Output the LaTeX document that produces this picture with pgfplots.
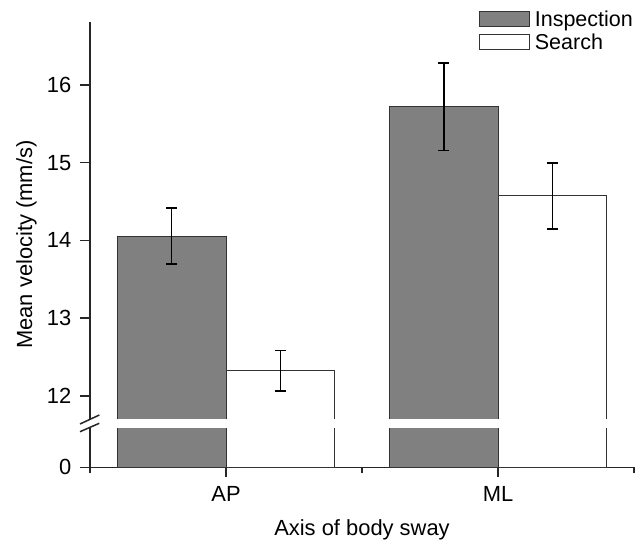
\documentclass[border=0pt]{standalone}
\usepackage{pgfplots}
\pgfplotsset{compat=1.18}
\usepackage{pgfplotstable}
\usepackage{fontspec}
\setmainfont{Liberation Sans}
\definecolor{bargray}{RGB}{128,128,128}
\pgfplotstableread{
x y err
0.8 14.055 0.36
1.8 15.72 0.565
}\inspection
\pgfplotstableread{
x y err
1.2 12.325 0.26
2.2 14.573 0.425
}\search
\begin{document}
\begin{tikzpicture}
\useasboundingbox (-90bp,-76.7bp) rectangle (549bp,467.3bp);
\begin{axis}[
  at={(0,0)}, anchor=south west,
  scale only axis, width=544bp, height=445.3bp,
  xmin=0.5, xmax=2.5, ymin=0, ymax=5.724,
  axis x line*=bottom, axis y line*=left,
  axis line style={line width=1.5bp, black!85},
  xtick={1,2}, xticklabels={AP,ML},
  minor xtick={0.5,1.5,2.5},
  ytick={0,0.9165,1.9165,2.9165,3.9165,4.9165},
  yticklabels={0,12,13,14,15,16},
  tick align=outside,
  major tick length=9.5bp, minor tick length=6bp,
  tick style={line width=1.5bp, black!85},
  /pgf/number format/assume math mode=true,
  tick label style={font=\fontsize{22}{26}\selectfont},
  yticklabel style={inner sep=0pt, anchor=east, xshift=-9bp},
  xticklabel style={inner sep=0pt, anchor=base, yshift=-25bp},
  xlabel={Axis of body sway},
  ylabel={Mean velocity (mm/s)},
  every axis x label/.style={at={(axis description cs:0.5,-0.1536)}, anchor=base, inner sep=0pt, font=\fontsize{22}{26}\selectfont},
  every axis y label/.style={at={(axis description cs:-0.1066,0.5)}, anchor=base, rotate=90, inner sep=0pt, font=\fontsize{22}{26}\selectfont},
  legend style={draw=none, fill=none, at={(rel axis cs:0.7155,1.03)}, anchor=north west,
    inner sep=0pt, font=\fontsize{21.6}{26}\selectfont, row sep=2bp},
  legend cell align=left,
  legend image code/.code={\draw[#1] (0bp,-7.5bp) rectangle (50bp,7.5bp); \path (52.5bp,0bp);},
  every error bar/.append style={line width=1.8bp, black},
  clip=false,
]
\addplot[ybar, bar width=0.4, bar shift=0pt, fill=bargray, draw=black!80, line width=0.9bp,
  error bars/.cd, y dir=both, y explicit,
  error bar style={line width=1.8bp, black},
  error mark options={rotate=90, mark size=5.3bp, line width=1.8bp, black}]
  table[x=x, y expr=\thisrow{y}-11.0835, y error=err] {\inspection};
\addlegendentry{Inspection}
\addplot[ybar, bar width=0.4, bar shift=0pt, fill=white, draw=black!80, line width=0.9bp,
  error bars/.cd, y dir=both, y explicit,
  error bar style={line width=1.8bp, black},
  error mark options={rotate=90, mark size=5.3bp, line width=1.8bp, black}]
  table[x=x, y expr=\thisrow{y}-11.0835, y error=err] {\search};
\addlegendentry{Search}
\fill[white] ([xshift=-3bp]axis cs:0.5,0.509) rectangle (axis cs:2.5,0.621);
\draw[line width=1.5bp, black!85] ([xshift=-10bp]axis cs:0.5,0.5566) -- ([xshift=9.3bp]axis cs:0.5,0.672);
\draw[line width=1.5bp, black!85] ([xshift=-10bp]axis cs:0.5,0.4576) -- ([xshift=9.3bp]axis cs:0.5,0.5656);
\end{axis}
\end{tikzpicture}
\end{document}
